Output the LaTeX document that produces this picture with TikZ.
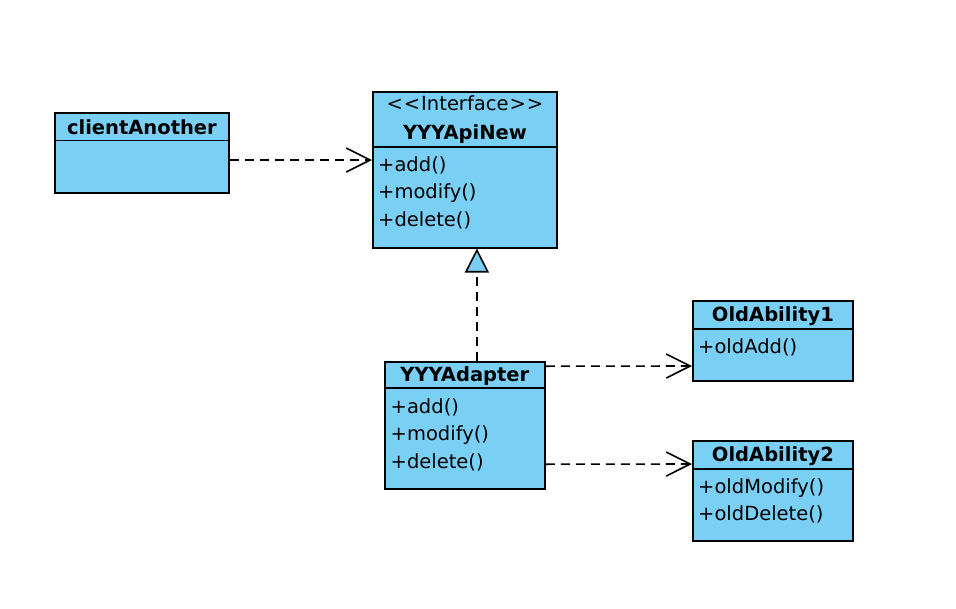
\documentclass[tikz,border=0pt]{standalone}
\usepackage{fontspec}
\setmainfont{DejaVu Sans}
\usetikzlibrary{arrows.meta,calc}
\definecolor{umlblue}{RGB}{122,207,245}

\begin{document}
\begin{tikzpicture}[x=1pt, y=-1pt,
	umlbox/.style={draw, fill=umlblue, line width=1.8pt, anchor=north west, inner sep=0pt},
	divider/.style={line width=1.8pt},
	classname/.style={anchor=base, inner sep=0pt, font=\bfseries\fontsize{19.5}{23}\selectfont},
	stereo/.style={anchor=base, inner sep=0pt, font=\fontsize{19.5}{23}\selectfont},
	ops/.style={anchor=north west, inner sep=0pt, align=left, font=\fontsize{19.5}{27.5}\selectfont},
	dep/.style={line width=1.6pt, dash pattern=on 9pt off 6pt, -{Straight Barb[length=24pt, width=24pt]}},
	real/.style={line width=1.6pt, dash pattern=on 9pt off 6pt, -{Triangle[length=24pt, width=24pt, fill=umlblue]}}]
	\useasboundingbox (0,0) rectangle (956,608);

	\node[umlbox, minimum width=174pt, minimum height=80pt] (client) at (54,112) {};
	\draw[divider] ($(client.north west)+(0,28.5)$) -- ($(client.north east)+(0,28.5)$);
	\node[classname] (clientname) at ($(client.north)+(0,22)$) {clientAnother};

	\node[umlbox, minimum width=184pt, minimum height=156pt] (api) at (372,90.7) {};
	\draw[divider] ($(api.north west)+(0,56)$) -- ($(api.north east)+(0,56)$);
	\node[stereo] (apistereo) at ($(api.north)+(0,20)$) {<\kern1pt<\kern1pt Interface\kern1pt>\kern1pt>};
	\node[classname] (apiname) at ($(api.north)+(0,48.5)$) {YYYApiNew};
	\node[ops] (apiops) at ($(api.north west)+(6,65.5)$) {+add()\\+modify()\\+delete()};

	\node[umlbox, minimum width=160pt, minimum height=127pt] (adapter) at (384,360.7) {};
	\draw[divider] ($(adapter.north west)+(0,27.5)$) -- ($(adapter.north east)+(0,27.5)$);
	\node[classname] (adaptername) at ($(adapter.north)+(0,21)$) {YYYAdapter};
	\node[ops] (adapterops) at ($(adapter.north west)+(6.5,37.5)$) {+add()\\+modify()\\+delete()};

	\node[umlbox, minimum width=160pt, minimum height=80pt] (old1) at (692,300) {};
	\draw[divider] ($(old1.north west)+(0,29)$) -- ($(old1.north east)+(0,29)$);
	\node[classname] (old1name) at ($(old1.north)+(0,21.7)$) {OldAbility1};
	\node[ops] (old1ops) at ($(old1.north west)+(6,38.5)$) {+oldAdd()};

	\node[umlbox, minimum width=160pt, minimum height=100pt] (old2) at (692,440) {};
	\draw[divider] ($(old2.north west)+(0,29)$) -- ($(old2.north east)+(0,29)$);
	\node[classname] (old2name) at ($(old2.north)+(0,21.7)$) {OldAbility2};
	\node[ops] (old2ops) at ($(old2.north west)+(6,38)$) {+oldModify()\\+oldDelete()};

	\coordinate (tip) at ($(api.south)+(12,0)$);
	\draw[real] (adapter.north -| tip) -- (tip);

	\draw[dep] ($(client.north east)+(0,48)$) -- ($(api.north west)+(0,69.3)$);
	\draw[dep] ($(adapter.north east)+(0,5.5)$) -- ($(old1.north west)+(0,66)$);
	\draw[dep] ($(adapter.north east)+(0,103.5)$) -- ($(old2.north west)+(0,24)$);
\end{tikzpicture}
\end{document}
